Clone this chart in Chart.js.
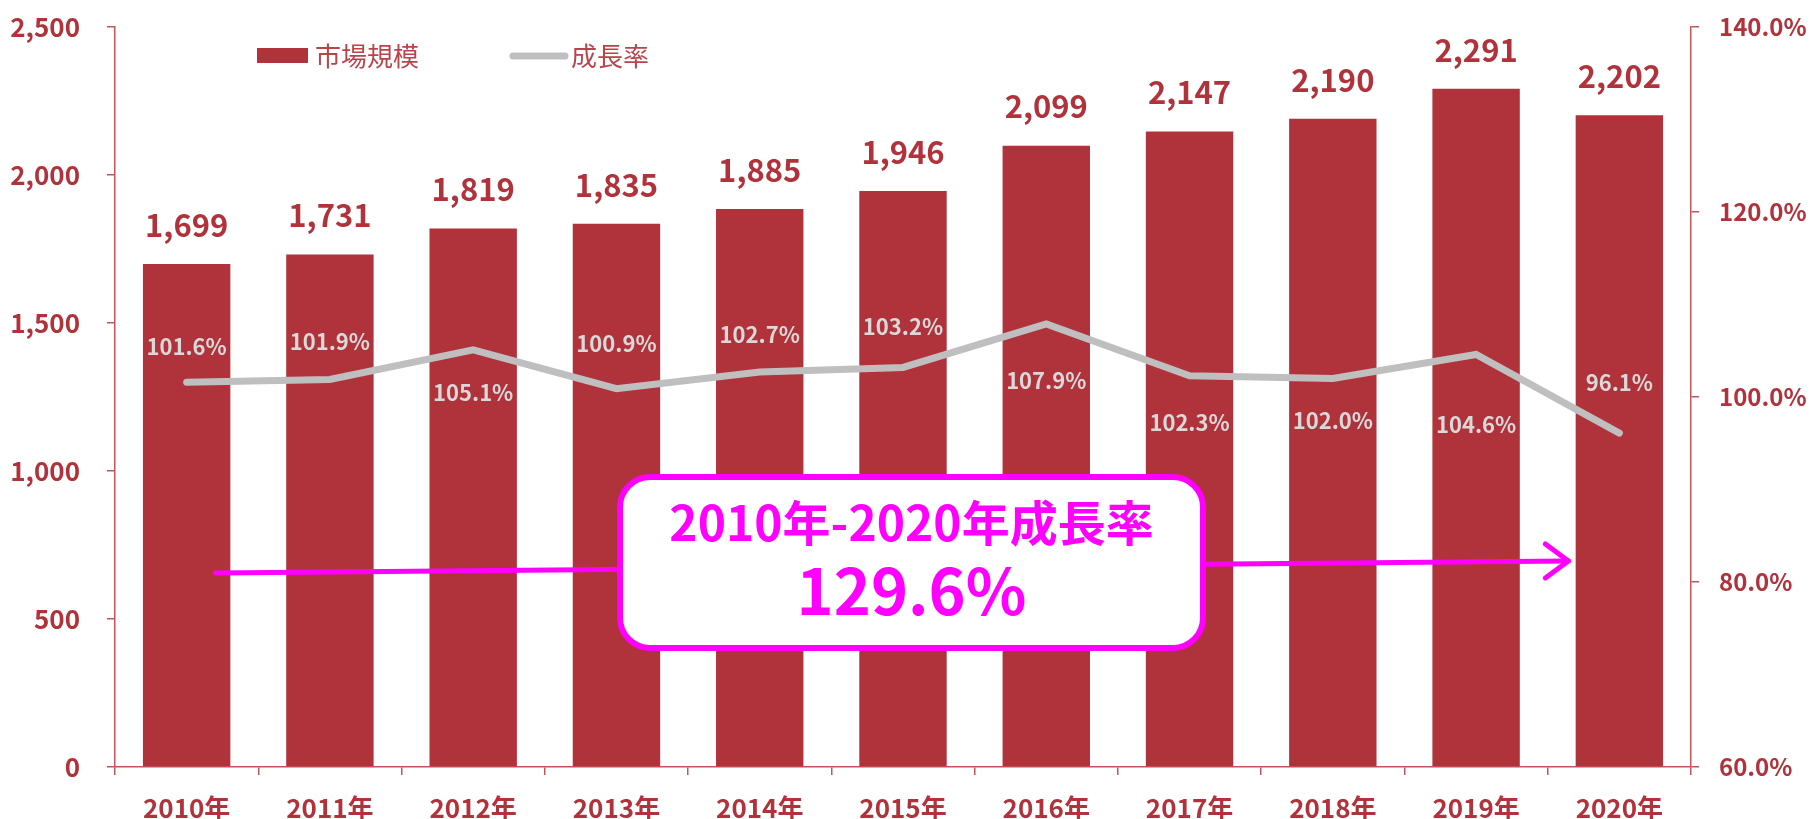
<!DOCTYPE html>
<html lang="ja">
<head>
<meta charset="utf-8">
<title>市場規模と成長率</title>
<script src="https://cdn.jsdelivr.net/npm/chart.js@4.4.1/dist/chart.umd.min.js"></script>
<style>
  html, body { margin: 0; padding: 0; background: #fff; }
  #wrap { width: 1811px; height: 819px; }
</style>
</head>
<body>
<div id="wrap"><canvas id="chart" width="1811" height="819"></canvas></div>
<script>
const YEARS = ['2010年', '2011年', '2012年', '2013年', '2014年', '2015年', '2016年', '2017年', '2018年', '2019年', '2020年']
const MARKET_SIZE = [1699, 1731, 1819, 1835, 1885, 1946, 2099, 2147, 2190, 2291, 2202]
const GROWTH_RATE = [101.6, 101.9, 105.1, 100.9, 102.7, 103.2, 107.9, 102.3, 102.0, 104.6, 96.1]
const OVERALL_TITLE = '2010年-2020年成長率'
const OVERALL_GROWTH = 129.6

// label offsets (px) for the growth-rate labels, negative = above the point
const RATE_LABEL_OFFSET = [-36, -38, 43, -45, -37, -41, 57, 47, 42, 70, -50]

const FONT = '"Noto Sans CJK JP", "Noto Sans", sans-serif'
const RED = '#b0323b'
const AXIS = '#c4545c'
const GREY = '#bfbfbf'
const MAGENTA = '#ff00ff'

const fmtSize = (v) => v.toLocaleString('en-US')
const fmtRate = (v) => v.toFixed(1) + '%'

const labelPlugin = {
  id: 'valueLabels',
  afterDatasetsDraw(chart) {
    const { ctx } = chart
    ctx.save()
    ctx.textAlign = 'center'
    ctx.textBaseline = 'middle'

    ctx.font = `bold 31px ${FONT}`
    ctx.fillStyle = RED
    chart.getDatasetMeta(0).data.forEach((el, i) => {
      ctx.fillText(fmtSize(MARKET_SIZE[i]), el.x, el.y - 39)
    })

    ctx.font = `bold 22px ${FONT}`
    ctx.fillStyle = '#d9d9d9'
    chart.getDatasetMeta(1).data.forEach((el, i) => {
      ctx.fillText(fmtRate(GROWTH_RATE[i]), el.x, el.y + RATE_LABEL_OFFSET[i])
    })
    ctx.restore()
  },
}

const legendPlugin = {
  id: 'topLegend',
  afterDraw(chart) {
    const { ctx } = chart
    ctx.save()
    ctx.textBaseline = 'middle'
    ctx.textAlign = 'left'
    ctx.font = `26px ${FONT}`

    ctx.fillStyle = RED
    ctx.fillRect(257, 48, 51, 15)
    ctx.fillStyle = '#b9434b'
    ctx.fillText('市場規模', 315, 56)

    ctx.strokeStyle = GREY
    ctx.lineWidth = 7
    ctx.lineCap = 'round'
    ctx.beginPath()
    ctx.moveTo(513, 56)
    ctx.lineTo(565, 56)
    ctx.stroke()
    ctx.fillStyle = '#b9434b'
    ctx.fillText('成長率', 571, 56)
    ctx.restore()
  },
}

const roundRectPath = (ctx, x, y, w, h, r) => {
  ctx.beginPath()
  ctx.moveTo(x + r, y)
  ctx.lineTo(x + w - r, y)
  ctx.arcTo(x + w, y, x + w, y + r, r)
  ctx.lineTo(x + w, y + h - r)
  ctx.arcTo(x + w, y + h, x + w - r, y + h, r)
  ctx.lineTo(x + r, y + h)
  ctx.arcTo(x, y + h, x, y + h - r, r)
  ctx.lineTo(x, y + r)
  ctx.arcTo(x, y, x + r, y, r)
  ctx.closePath()
}

const annotationPlugin = {
  id: 'growthAnnotation',
  afterDraw(chart) {
    const { ctx, scales } = chart
    const xs = scales.x
    const ys = scales.y
    const x0 = xs.getPixelForValue(0) + 29
    const x1 = xs.getPixelForValue(YEARS.length - 1) - 51
    const y0 = ys.getPixelForValue(655)
    const y1 = ys.getPixelForValue(696)

    ctx.save()
    ctx.strokeStyle = MAGENTA
    ctx.lineWidth = 5
    ctx.lineCap = 'round'
    ctx.lineJoin = 'round'
    ctx.beginPath()
    ctx.moveTo(x0, y0)
    ctx.lineTo(x1, y1)
    ctx.stroke()
    ctx.beginPath()
    ctx.moveTo(x1 - 23, y1 - 17)
    ctx.lineTo(x1, y1)
    ctx.lineTo(x1 - 23, y1 + 17)
    ctx.stroke()

    const bx = 620
    const by = 477
    const bw = 583
    const bh = 171
    roundRectPath(ctx, bx, by, bw, bh, 30)
    ctx.fillStyle = '#fff'
    ctx.fill()
    ctx.lineWidth = 6
    ctx.stroke()

    ctx.fillStyle = MAGENTA
    ctx.textAlign = 'center'
    ctx.textBaseline = 'middle'
    ctx.font = `bold 48px ${FONT}`
    ctx.fillText(OVERALL_TITLE, bx + bw / 2, 523)
    ctx.font = `bold 63px ${FONT}`
    ctx.fillText(fmtRate(OVERALL_GROWTH), bx + bw / 2, 591)
    ctx.restore()
  },
}

const axisGrid = {
  display: true,
  drawOnChartArea: false,
  drawTicks: true,
  tickLength: 8,
  color: AXIS,
  lineWidth: 1.5,
}

// fixed axis widths; drop the label overflow padding so the plot spans the full height
const fitY = (width) => (scale) => {
  scale.width = width
  scale.paddingTop = 0
  scale.paddingBottom = 0
}

new Chart(document.getElementById('chart'), {
  data: {
    labels: YEARS,
    datasets: [
      {
        type: 'bar',
        label: '市場規模',
        data: MARKET_SIZE,
        backgroundColor: RED,
        yAxisID: 'y',
        barPercentage: 0.61,
        categoryPercentage: 1,
        order: 1,
      },
      {
        type: 'line',
        label: '成長率',
        data: GROWTH_RATE,
        borderColor: GREY,
        backgroundColor: GREY,
        borderWidth: 7,
        borderCapStyle: 'round',
        borderJoinStyle: 'miter',
        pointRadius: 0,
        tension: 0,
        yAxisID: 'y1',
        order: 0,
      },
    ],
  },
  options: {
    responsive: false,
    animation: false,
    devicePixelRatio: 1,
    layout: { padding: { top: 27, left: 0, right: 0, bottom: 0 } },
    plugins: {
      legend: { display: false },
      tooltip: { enabled: false },
    },
    scales: {
      x: {
        grid: { ...axisGrid, offset: true },
        border: { display: true, color: AXIS, width: 1.5 },
        ticks: {
          color: RED,
          font: { family: FONT, size: 26, weight: 'bold' },
          padding: 18,
          maxRotation: 0,
        },
        afterFit: (scale) => { scale.height = 52 },
      },
      y: {
        position: 'left',
        min: 0,
        max: 2500,
        grid: axisGrid,
        border: { display: true, color: AXIS, width: 1.5 },
        ticks: {
          stepSize: 500,
          color: RED,
          padding: 27,
          font: { family: FONT, size: 26, weight: 'bold' },
          callback: (v) => fmtSize(v),
        },
        afterFit: fitY(115),
      },
      y1: {
        position: 'right',
        min: 60,
        max: 140,
        grid: axisGrid,
        border: { display: true, color: AXIS, width: 1.5 },
        ticks: {
          stepSize: 20,
          color: RED,
          padding: 20,
          font: { family: FONT, size: 24, weight: 'bold' },
          callback: (v) => fmtRate(v),
        },
        afterFit: fitY(120),
      },
    },
  },
  plugins: [labelPlugin, legendPlugin, annotationPlugin],
})
</script>
</body>
</html>
